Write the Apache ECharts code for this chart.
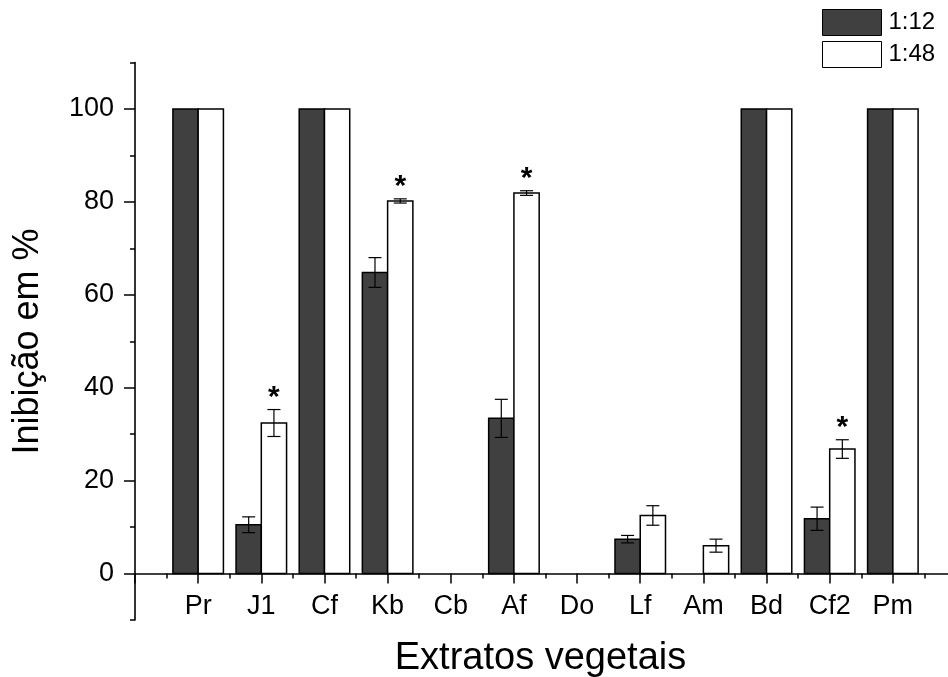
<!DOCTYPE html>
<html><head><meta charset="utf-8">
<script src="https://cdn.jsdelivr.net/npm/echarts@6/dist/echarts.min.js"></script>
<style>html,body{margin:0;padding:0;background:#fff}#c{width:948px;height:677px}</style>
</head><body><div id="c"></div>
<script>
const categories = ['Pr','J1','Cf','Kb','Cb','Af','Do','Lf','Am','Bd','Cf2','Pm'];
const seriesNames = ['1:12','1:48'];
const values12 = [100, 10.5, 100, 64.8, 0, 33.4, 0, 7.4, 0, 100, 11.8, 100];
const errors12 = [0, 1.7, 0, 3.2, 0, 4.1, 0, 0.8, 0, 0, 2.5, 0];
const values48 = [100, 32.4, 100, 80.2, 0, 81.9, 0, 12.5, 6.0, 100, 26.8, 100];
const errors48 = [0, 2.9, 0, 0.45, 0, 0.5, 0, 2.1, 1.4, 0, 2.0, 0];
const stars48 = [0, 1, 0, 1, 0, 1, 0, 0, 0, 0, 1, 0];
const yTicks = [0, 20, 40, 60, 80, 100];

const FONT = '"Liberation Sans", Arial, sans-serif';
const chart = echarts.init(document.getElementById('c'), null, {renderer: 'canvas'});

function makeData(vals, errs, stars) {
  return vals.map((v, i) => [i + 1, v, errs[i], stars ? stars[i] : 0]);
}

function renderBar(side, fill) {
  return function (params, api) {
    const x = api.value(0), v = api.value(1), e = api.value(2), star = api.value(3);
    const x0 = side === 0 ? x - 0.4 : x;
    const x1 = side === 0 ? x : x + 0.4;
    const children = [];
    if (v > 0) {
      const p0 = api.coord([x0, v]);
      const p1 = api.coord([x1, 0]);
      children.push({
        type: 'rect',
        shape: {x: p0[0], y: p0[1], width: p1[0] - p0[0], height: p1[1] - p0[1]},
        style: {fill: fill, stroke: '#000', lineWidth: 1.5}
      });
    }
    const cx = (api.coord([x0, 0])[0] + api.coord([x1, 0])[0]) / 2;
    let topY = api.coord([x, v])[1];
    if (e > 0) {
      const yt = api.coord([x, v + e])[1];
      const yb = api.coord([x, v - e])[1];
      topY = yt;
      const cap = 6.5;
      children.push({type: 'line', shape: {x1: cx, y1: yt, x2: cx, y2: yb}, style: {stroke: '#000', lineWidth: 1.2}});
      children.push({type: 'line', shape: {x1: cx - cap, y1: yt, x2: cx + cap, y2: yt}, style: {stroke: '#000', lineWidth: 1.2}});
      children.push({type: 'line', shape: {x1: cx - cap, y1: yb, x2: cx + cap, y2: yb}, style: {stroke: '#000', lineWidth: 1.2}});
    }
    if (star) {
      children.push({
        type: 'text',
        style: {text: '*', x: cx, y: topY - 12, align: 'center', verticalAlign: 'middle',
                font: 'bold 30px ' + FONT, fill: '#000'}
      });
    }
    return {type: 'group', children: children};
  };
}

const option = {
  animation: false,
  backgroundColor: '#fff',
  textStyle: {fontFamily: FONT},
  legend: {
    orient: 'vertical', left: 822, top: 9, padding: 0,
    itemWidth: 59, itemHeight: 26, itemGap: 5,
    data: [
      {name: seriesNames[0], icon: 'rect', itemStyle: {color: '#404040', borderColor: '#000', borderWidth: 1}},
      {name: seriesNames[1], icon: 'rect', itemStyle: {color: '#fff', borderColor: '#000', borderWidth: 1}}
    ],
    textStyle: {fontSize: 24, color: '#000', fontFamily: FONT, padding: [0, 0, 0, 2]}
  },
  grid: [
    {left: 135, right: -8, top: 62.5, bottom: 57, outerBoundsMode: 'none', containLabel: false},
    {left: 135, right: -8, top: 109, bottom: 103, outerBoundsMode: 'none', containLabel: false}
  ],
  xAxis: [
    {
      gridIndex: 0, type: 'value', min: 0, max: 13, interval: 1,
      axisLine: {show: true, onZero: true, lineStyle: {color: '#000', width: 1.6}},
      axisTick: {show: true, inside: false, length: 10, lineStyle: {color: '#000', width: 1.5}},
      minorTick: {show: true, splitNumber: 2, length: 5, lineStyle: {color: '#000', width: 1.5}},
      splitLine: {show: false}, minorSplitLine: {show: false},
      axisLabel: {show: false}
    },
    {
      gridIndex: 1, type: 'value', min: 0, max: 13, interval: 1,
      axisLine: {show: false}, axisTick: {show: false},
      splitLine: {show: false},
      axisLabel: {
        margin: 19, fontSize: 27, color: '#000', fontFamily: FONT,
        formatter: v => (Number.isInteger(v) && v >= 1 && v <= categories.length) ? categories[v - 1] : ''
      },
      name: 'Extratos vegetais', nameLocation: 'middle', nameGap: 66,
      nameTextStyle: {fontSize: 38, color: '#000', fontFamily: FONT, padding: [0, 10, 0, 0]}
    }
  ],
  yAxis: [
    {
      gridIndex: 0, type: 'value', min: -10, max: 110, interval: 20,
      axisLine: {show: true, lineStyle: {color: '#000', width: 1.6}},
      axisTick: {show: true, inside: false, length: 5, lineStyle: {color: '#000', width: 1.5}},
      axisLabel: {show: false}, splitLine: {show: false}
    },
    {
      gridIndex: 1, type: 'value', min: yTicks[0], max: yTicks[yTicks.length - 1], interval: 20,
      axisLine: {show: false},
      axisTick: {show: true, inside: false, length: 11, lineStyle: {color: '#000', width: 1.5}},
      axisLabel: {margin: 21, fontSize: 27, color: '#000', fontFamily: FONT},
      splitLine: {show: false},
      name: 'Inibição em %', nameLocation: 'middle', nameGap: 89, nameRotate: 90,
      nameTextStyle: {fontSize: 36, color: '#000', fontFamily: FONT}
    }
  ],
  series: [
    {
      name: seriesNames[0], type: 'custom', xAxisIndex: 0, yAxisIndex: 0,
      itemStyle: {color: '#404040'},
      renderItem: renderBar(0, '#404040'),
      encode: {x: 0, y: 1},
      data: makeData(values12, errors12, null)
    },
    {
      name: seriesNames[1], type: 'custom', xAxisIndex: 0, yAxisIndex: 0,
      itemStyle: {color: '#ffffff'},
      renderItem: renderBar(1, '#ffffff'),
      encode: {x: 0, y: 1},
      data: makeData(values48, errors48, stars48)
    }
  ]
};
chart.setOption(option);
</script></body></html>
